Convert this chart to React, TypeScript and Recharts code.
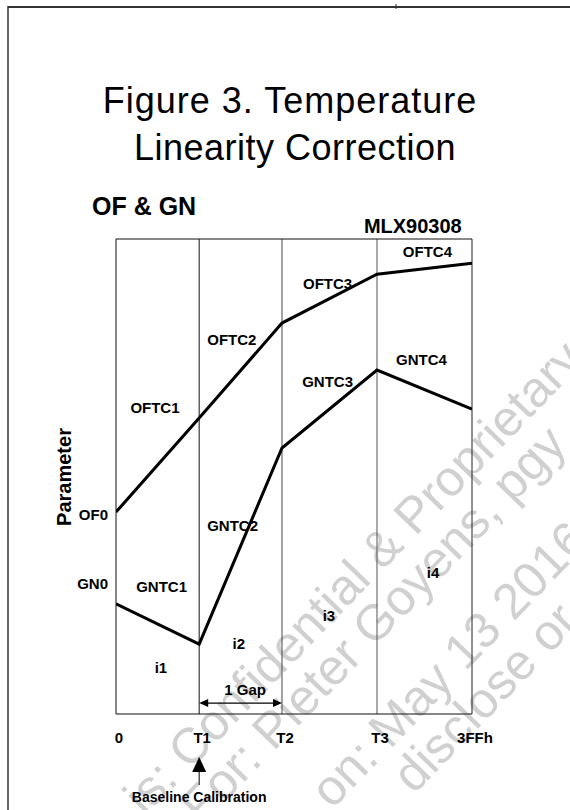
import React from 'react';
import { LineChart, Line, XAxis, YAxis, ReferenceLine, ReferenceDot } from 'recharts';

// Temperature breakpoints (10-bit code, 3FFh = 1023) and tick labels
const xLabels = ['0', 'T1', 'T2', 'T3', '3FFh'];
const xPositions = [0, 239, 477, 750, 1023];

// Parameter values (arbitrary 0..100 scale) at each breakpoint
const ofValues = [42.5, 62.3, 82.3, 92.6, 94.9];
const gnValues = [23.2, 14.7, 56.0, 72.4, 64.2];

// In-plot annotations (data coordinates)
const annText = ['OFTC1', 'OFTC2', 'OFTC3', 'OFTC4', 'GNTC1', 'GNTC2', 'GNTC3', 'GNTC4', 'i1', 'i2', 'i3', 'i4', '1 Gap'];
const annX = [112, 333, 608, 895, 131, 335, 608, 878, 129, 353, 612, 911, 371];
const annY = [64.6, 78.9, 90.7, 97.3, 26.9, 39.6, 69.9, 74.7, 9.7, 14.9, 20.8, 29.7, 5.1];

// Start values labels left of the plot
const startText = ['OF0', 'GN0'];
const startX = [-23, -23];
const startY = [41.9, 27.4];

const gapArrowY = 2.3;
const baselineArrowY = -9.05;
const baselineText = 'Baseline Calibration';
const baselineTextY = -17.5;
const deviceText = 'MLX90308';
const deviceX = 853;
const deviceY = 102.7;
const yTitle = 'Parameter';
const yTitleX = -149;
const yTitleY = 49.9;

const titleLines = ['Figure 3. Temperature', 'Linearity Correction'];
const subTitle = 'OF & GN';
const watermark = ['is: Confidential & Proprietary', 'For: Pieter Goyens, pgy', 'on: May 13 2016', 'disclose or'];
const wmStartX = [145, 202, 332, 414];
const wmStartY = [817, 826, 810, 795];

const FONT = "'Liberation Sans', Arial, Helvetica, sans-serif";

const chartData = xPositions.map((t, i) => ({ t, of: ofValues[i], gn: gnValues[i] }));

const textShape = (text: string, anchor: string, size: number, weight: string, rotate = 0) => (p: any) => (
  <text
    x={p.cx}
    y={p.cy}
    textAnchor={anchor}
    dominantBaseline="central"
    fontFamily={FONT}
    fontSize={size}
    fontWeight={weight}
    fill="#000"
    transform={rotate ? `rotate(${rotate} ${p.cx} ${p.cy})` : undefined}
  >
    {text}
  </text>
);

const GapArrow = (p: any) => {
  const { x1, y1, x2 } = p;
  const h = 9;
  const w = 4;
  return (
    <g>
      <line x1={x1 + h - 1} y1={y1} x2={x2 - h + 1} y2={y1} stroke="#000" strokeWidth={1.2} />
      <polygon points={`${x1},${y1} ${x1 + h},${y1 - w} ${x1 + h},${y1 + w}`} fill="#000" />
      <polygon points={`${x2},${y1} ${x2 - h},${y1 - w} ${x2 - h},${y1 + w}`} fill="#000" />
    </g>
  );
};

const UpArrow = (p: any) => {
  const { cx, cy } = p;
  return (
    <g>
      <polygon points={`${cx},${cy} ${cx - 7},${cy + 15} ${cx + 7},${cy + 15}`} fill="#000" />
      <line x1={cx} y1={cy + 15} x2={cx} y2={cy + 28} stroke="#000" strokeWidth={1} />
    </g>
  );
};

const lineColors = ['#111', '#111', '#444', '#555', '#222'];

export default function App() {
  return (
    <div style={{ position: 'fixed', left: 0, top: 0, width: 570, height: 810, background: '#fff', overflow: 'hidden' }}>
      <svg width={570} height={810} style={{ position: 'absolute', left: 0, top: 0 }}>
        <g fontFamily={FONT} fontSize={50} fill="#d0d0d0">
          {watermark.map((w, i) => (
            <text key={i} x={wmStartX[i]} y={wmStartY[i]} transform={`rotate(-46 ${wmStartX[i]} ${wmStartY[i]})`}>{w}</text>
          ))}
        </g>
        <line x1={8} y1={7} x2={570} y2={7} stroke="#333" strokeWidth={2} />
        <line x1={8} y1={6} x2={8} y2={810} stroke="#333" strokeWidth={1.5} />
        <line x1={396} y1={4} x2={396} y2={9} stroke="#333" strokeWidth={1} />
        <text x={290} y={113} textAnchor="middle" fontFamily={FONT} fontSize={36} letterSpacing={1} fill="#000">{titleLines[0]}</text>
        <text x={295} y={160} textAnchor="middle" fontFamily={FONT} fontSize={36} letterSpacing={0.5} fill="#000">{titleLines[1]}</text>
        <text x={92} y={215} fontFamily={FONT} fontSize={25} fontWeight="bold" fill="#000">{subTitle}</text>
      </svg>
      <div style={{ position: 'absolute', left: 0, top: 0 }}>
        <LineChart width={570} height={810} data={chartData} margin={{ top: 239, left: 116, right: 98, bottom: 66 }}>
          <XAxis
            dataKey="t"
            type="number"
            domain={[0, 1023]}
            allowDataOverflow
            ticks={xPositions}
            interval={0}
            tickFormatter={(v: number) => xLabels[xPositions.indexOf(v)]}
            axisLine={false}
            tickLine={false}
            tickSize={6}
            tickMargin={12}
            height={30}
            tick={{ fontSize: 15, fontWeight: 'bold', fill: '#000', fontFamily: FONT, dx: 3 }}
          />
          <YAxis hide type="number" domain={[0, 100]} allowDataOverflow />
          {xPositions.map((x, i) => (
            <ReferenceLine key={`v${i}`} x={x} stroke={lineColors[i]} strokeWidth={1} />
          ))}
          <ReferenceLine y={100} stroke="#111" strokeWidth={1} />
          <ReferenceLine y={0} stroke="#111" strokeWidth={1} />
          <Line type="linear" dataKey="of" stroke="#000" strokeWidth={3} dot={false} isAnimationActive={false} />
          <Line type="linear" dataKey="gn" stroke="#000" strokeWidth={3} dot={false} isAnimationActive={false} />
          {annText.map((t, i) => (
            <ReferenceDot key={`a${i}`} x={annX[i]} y={annY[i]} r={0} ifOverflow="visible" shape={textShape(t, 'middle', 15, 'bold')} />
          ))}
          {startText.map((t, i) => (
            <ReferenceDot key={`s${i}`} x={startX[i]} y={startY[i]} r={0} ifOverflow="visible" shape={textShape(t, 'end', 15, 'bold')} />
          ))}
          <ReferenceDot x={deviceX} y={deviceY} r={0} ifOverflow="visible" shape={textShape(deviceText, 'middle', 20, 'bold')} />
          <ReferenceDot x={yTitleX} y={yTitleY} r={0} ifOverflow="visible" shape={textShape(yTitle, 'middle', 20, 'bold', -90)} />
          <ReferenceLine
            segment={[{ x: xPositions[1], y: gapArrowY }, { x: xPositions[2], y: gapArrowY }]}
            ifOverflow="visible"
            shape={GapArrow}
          />
          <ReferenceDot x={xPositions[1]} y={baselineArrowY} r={0} ifOverflow="visible" shape={UpArrow} />
          <ReferenceDot x={xPositions[1]} y={baselineTextY} r={0} ifOverflow="visible" shape={textShape(baselineText, 'middle', 14, 'bold')} />
        </LineChart>
      </div>
    </div>
  );
}
